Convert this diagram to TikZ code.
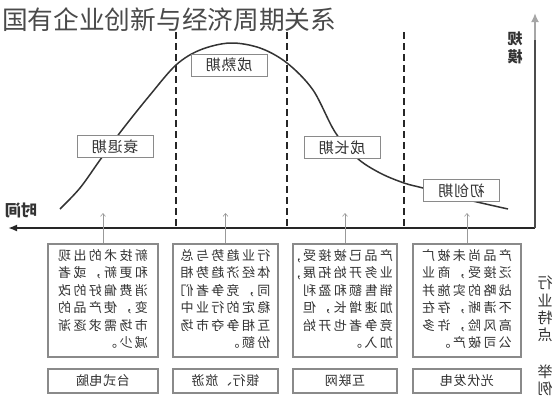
\documentclass[tikz,border=0pt]{standalone}
\usepackage{fontspec}
\usepackage{graphicx}
\setmainfont{Noto Sans CJK SC}
\newfontfamily\bodyfont[LetterSpace=18]{Noto Sans CJK SC}
\newfontfamily\smallfont[LetterSpace=5]{Noto Sans CJK SC}
\usetikzlibrary{arrows.meta}
\definecolor{txt}{HTML}{333333}
\definecolor{bord}{HTML}{8A8A8A}
\definecolor{titlec}{HTML}{4A4A4A}
\newcommand\mirr[1]{\reflectbox{#1}}
\tikzset{
  dashline/.style={line width=1.8pt, draw=black!85, dash pattern=on 7pt off 4pt},
  curveline/.style={line width=1.5pt, draw=black!80},
  haxis/.style={line width=2pt, draw=black!85, -{Latex[length=9pt,width=7pt]}},
  vaxis/.style={line width=2.4pt, draw=black!70},
  vaxistop/.style={line width=2.4pt, draw=black!35, -{Latex[length=9pt,width=8pt]}},
  tickarrow/.style={line width=0.6pt, draw=black!40, -{Straight Barb[length=3pt,width=5pt]}},
  stagebox/.style={draw=bord, line width=0.8pt, fill=white, minimum width=76pt, minimum height=22pt, inner sep=0pt, text=txt, font=\smallfont\fontsize{15}{15}\selectfont},
  infobox/.style={draw=bord, line width=1.1pt, fill=white, minimum height=113pt, inner sep=0pt, text=txt, font=\bodyfont\fontsize{13}{17.4}\selectfont},
  examplebox/.style={draw=bord, line width=1.1pt, fill=white, minimum height=24pt, inner sep=0pt, text=txt, font=\smallfont\fontsize{13}{13}\selectfont},
  sidelabel/.style={inner sep=0pt, text=txt, align=center, font=\fontsize{15}{17.4}\selectfont},
}
\begin{document}
\begin{tikzpicture}[x=1pt,y=-1pt]
\useasboundingbox (0,0) rectangle (560,400);
% title
\node[anchor=west, inner sep=0pt, text=titlec, font=\fontsize{25.7}{26}\selectfont] (title) at (2,20) {国有企业创新与经济周期关系};
% dashed separators
\draw[dashline] (176,32) -- (176,228);
\draw[dashline] (287,32) -- (287,228);
\draw[dashline] (404,32) -- (404,228);
% curve
\draw[curveline] plot[smooth, tension=0.55] coordinates {(60,209) (80,188) (100,160) (122,130) (150,95) (176,65) (200,50) (230,43) (260,48) (287,63) (313,90) (335,132) (357,158) (380,173) (404,183) (423,188) (460,198) (508,209)};
% axes
\coordinate (O) at (535,228);
\coordinate (xend) at (8,228);
\coordinate (ymid) at (535,40);
\coordinate (yend) at (535,13);
\draw[haxis] (O) -- (xend);
\draw[vaxis] (O) -- (ymid);
\draw[vaxistop] (ymid) -- (yend);
% axis labels
\node[sidelabel, font=\bfseries\fontsize{15}{18}\selectfont] (ylab) at (515,48) {\mirr{规}\\\mirr{模}};
\node[inner sep=0pt, text=txt, font=\bfseries\fontsize{16}{16}\selectfont] (xlab) at (21,210) {\mirr{时间}};
% stage boxes
\node[stagebox] (s1) at (115,146.5) {\mirr{衰退期}};
\node[stagebox] (s2) at (229,65) {\mirr{成熟期}};
\node[stagebox] (s3) at (342,147.5) {\mirr{成长期}};
\node[stagebox] (s4) at (461.5,190.5) {\mirr{初创期}};
% info boxes
\node[infobox, minimum width=110pt] (b1) at (103,300.5) {\mirr{\begin{tabular}{@{}l@{}}新技术的出现\\和更新，或者\\消费偏好的改\\变，使产品的\\市场需求逐渐\\减少。\end{tabular}}};
\node[infobox, minimum width=105pt] (b2) at (225.5,300.5) {\mirr{\begin{tabular}{@{}l@{}}行业趋势与总\\体经济趋势相\\同，竞争者们\\稳定的行业中\\互相争夺市场\\份额。\end{tabular}}};
\node[infobox, minimum width=104pt] (b3) at (345,300.5) {\mirr{\begin{tabular}{@{}l@{}}产品已被接受,\\业务开始拓展,\\销售额和盈利\\加速增长，但\\竞争者也开始\\加入。\end{tabular}}};
\node[infobox, minimum width=108pt] (b4) at (467,300.5) {\mirr{\begin{tabular}{@{}l@{}}产品尚未被广\\泛接受，商业\\战略的实施并\\不清晰，存在\\高风险，许多\\公司破产。\end{tabular}}};
% tick arrows
\coordinate (tk) at (0,213);
\draw[tickarrow] (b1.north) -- (b1.north |- tk);
\draw[tickarrow] (b2.north) -- (b2.north |- tk);
\draw[tickarrow] (b3.north) -- (b3.north |- tk);
\draw[tickarrow] (b4.north) -- (b4.north |- tk);
% example boxes
\node[examplebox, minimum width=110pt] (e1) at (103,381) {\mirr{台式电脑}};
\node[examplebox, minimum width=105pt] (e2) at (225.5,381) {\mirr{银行、旅游}};
\node[examplebox, minimum width=104pt] (e3) at (345,381) {\mirr{互联网}};
\node[examplebox, minimum width=108pt] (e4) at (467,381) {\mirr{光伏发电}};
% side labels
\node[sidelabel] (feat) at (545,309) {\mirr{行}\\\mirr{业}\\\mirr{特}\\\mirr{点}};
\node[sidelabel] (exlab) at (545,380.5) {\mirr{举}\\\mirr{例}};
\end{tikzpicture}
\end{document}
